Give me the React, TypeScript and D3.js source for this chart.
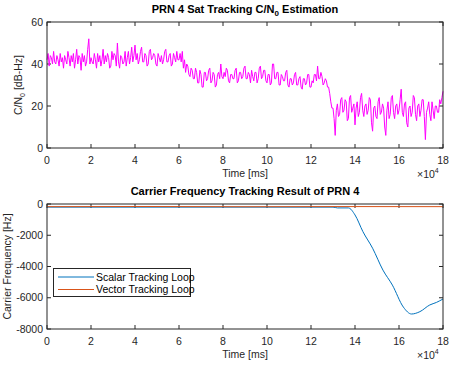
import { useEffect, useRef } from "react";
import * as d3 from "d3";

// C/N0 estimate, one sample every 500 ms
const T_STEP = 500;
const cn0: number[] = [
  42, 45, 39, 44, 43, 40, 46, 41, 40, 44, 42, 39, 45, 41, 43, 38, 44, 42, 40, 46,
  43, 39, 44, 41, 45, 38, 42, 47, 40, 44, 43, 37, 45, 41, 44, 39, 41, 47, 52, 40,
  43, 41, 40, 45, 42, 38, 45, 41, 44, 39, 42, 47, 40, 44, 41, 45, 43, 38, 39, 46,
  42, 45, 44, 39, 50, 41, 38, 44, 43, 40, 41, 46, 39, 43, 46, 40, 43, 48, 41, 44,
  49, 42, 45, 40, 42, 46, 48, 41, 41, 45, 44, 39, 40, 46, 47, 42, 43, 45, 44, 40,
  39, 45, 43, 41, 44, 40, 42, 46, 47, 41, 41, 44, 45, 39, 40, 45, 43, 41, 46, 42,
  42, 45, 41, 46, 38, 42, 36, 40, 39, 35, 34, 38, 37, 33, 33, 38, 36, 31, 31, 37,
  35, 29, 29, 36, 36, 32, 33, 37, 38, 31, 32, 36, 35, 29, 30, 35, 36, 33, 40, 34,
  33, 36, 34, 38, 37, 32, 31, 35, 35, 33, 33, 37, 38, 31, 32, 36, 36, 33, 34, 38,
  39, 33, 33, 36, 35, 31, 37, 34, 32, 36, 36, 31, 33, 38, 39, 33, 34, 37, 37, 32,
  31, 35, 35, 30, 31, 40, 40, 33, 33, 36, 36, 30, 30, 35, 34, 32, 32, 36, 37, 30,
  29, 33, 33, 30, 31, 35, 36, 30, 30, 33, 34, 29, 28, 33, 33, 30, 31, 35, 35, 29,
  29, 32, 31, 35, 35, 32, 39, 33, 33, 36, 34, 30, 31, 33, 32, 29, 29, 26, 22, 19,
  19, 14, 6, 18, 21, 15, 16, 23, 24, 17, 18, 23, 22, 13, 14, 24, 25, 17, 19, 21,
  11, 19, 22, 15, 17, 24, 26, 18, 15, 20, 21, 16, 18, 24, 23, 12, 8, 19, 20, 15,
  14, 22, 24, 16, 17, 21, 19, 10, 6, 18, 22, 14, 16, 24, 25, 17, 14, 20, 21, 16,
  18, 23, 28, 17, 15, 21, 22, 12, 10, 19, 20, 15, 17, 25, 24, 16, 13, 20, 21, 15,
  18, 23, 23, 15, 4, 17, 19, 22, 16, 13, 22, 18, 14, 20, 20, 17, 17, 23, 21, 24,
  27,
];

// Carrier frequency [Hz]
const scalarT = [0, 130000, 132000, 137000, 140000, 143600, 148000, 152700, 157000, 162000, 165700, 169500, 174000, 177000, 180000];
const scalarF = [-200, -200, -250, -250, -700, -1770, -2830, -4230, -5190, -6600, -7040, -6890, -6460, -6300, -6080];
const vectorT = [0, 45000, 90000, 135000, 180000];
const vectorF = [-170, -160, -175, -165, -170];

const xTicks = [0, 20000, 40000, 60000, 80000, 100000, 120000, 140000, 160000, 180000];
const cnTicks = [0, 20, 40, 60];
const fTicks = [-8000, -6000, -4000, -2000, 0];
const legendLabels = ["Scalar Tracking Loop", "Vector Tracking Loop"];

export default function App() {
  const svgRef = useRef<SVGSVGElement>(null);

  useEffect(() => {
    if (!svgRef.current) return;
    const svg = d3.select(svgRef.current);
    svg.selectAll("*").remove();

    const font = "Liberation Sans, Arial, sans-serif";
    const axisColor = "#262626";
    const left = 47;
    const right = 443;

    const x = d3.scaleLinear().domain([0, 180000]).range([left, right]);

    const drawAxes = (
      y: d3.ScaleLinear<number, number>,
      top: number,
      bottom: number,
      yTicks: number[],
      title: string,
      sub: string | null,
      titleRest: string,
      ylab: string,
      ylabSub: string | null,
      ylabRest: string,
      ylabX: number
    ) => {
      const g = svg.append("g");
      g.append("rect")
        .attr("x", left)
        .attr("y", top)
        .attr("width", right - left)
        .attr("height", bottom - top)
        .attr("fill", "white");

      // x ticks (inside, bottom and top)
      xTicks.forEach((t) => {
        const px = x(t);
        g.append("line").attr("x1", px).attr("x2", px).attr("y1", bottom).attr("y2", bottom - 4).attr("stroke", axisColor);
        g.append("line").attr("x1", px).attr("x2", px).attr("y1", top).attr("y2", top + 4).attr("stroke", axisColor);
        g.append("text")
          .attr("x", px)
          .attr("y", bottom + 16)
          .attr("text-anchor", "middle")
          .attr("font-family", font)
          .attr("font-size", 10.5)
          .attr("fill", axisColor)
          .text(t / 10000);
      });

      yTicks.forEach((v) => {
        const py = y(v);
        g.append("line").attr("x1", left).attr("x2", left + 4).attr("y1", py).attr("y2", py).attr("stroke", axisColor);
        g.append("line").attr("x1", right).attr("x2", right - 4).attr("y1", py).attr("y2", py).attr("stroke", axisColor);
        g.append("text")
          .attr("x", left - 4)
          .attr("y", py + 3.5)
          .attr("text-anchor", "end")
          .attr("font-family", font)
          .attr("font-size", 10.5)
          .attr("fill", axisColor)
          .text(v);
      });

      // title
      const tt = g.append("text")
        .attr("x", (left + right) / 2)
        .attr("y", top - 9)
        .attr("text-anchor", "middle")
        .attr("font-family", font)
        .attr("font-size", 11)
        .attr("font-weight", "bold")
        .attr("fill", "black");
      tt.append("tspan").text(title);
      if (sub) {
        tt.append("tspan").attr("font-size", 8).attr("dy", 3).text(sub);
        tt.append("tspan").attr("dy", -3).text(titleRest);
      }

      // x label
      g.append("text")
        .attr("x", (left + right) / 2)
        .attr("y", bottom + 29)
        .attr("text-anchor", "middle")
        .attr("font-family", font)
        .attr("font-size", 10.5)
        .attr("fill", axisColor)
        .text("Time [ms]");

      // exponent
      const ex = g.append("text")
        .attr("x", 417)
        .attr("y", bottom + 30)
        .attr("font-family", font)
        .attr("font-size", 10.5)
        .attr("fill", axisColor);
      ex.append("tspan").text("×10");
      ex.append("tspan").attr("font-size", 7).attr("dy", -5).text("4");

      // y label
      const cy = (top + bottom) / 2;
      const yl = g.append("text")
        .attr("transform", `translate(${ylabX},${cy}) rotate(-90)`)
        .attr("text-anchor", "middle")
        .attr("font-family", font)
        .attr("font-size", 10.5)
        .attr("fill", axisColor);
      yl.append("tspan").text(ylab);
      if (ylabSub) {
        yl.append("tspan").attr("font-size", 7).attr("dy", 3).text(ylabSub);
        yl.append("tspan").attr("dy", -3).text(ylabRest);
      }
      return g;
    };

    // ---- top plot ----
    const topY = 22;
    const topB = 148;
    const y1 = d3.scaleLinear().domain([0, 60]).range([topB, topY]);
    const g1 = drawAxes(y1, topY, topB, cnTicks, "PRN 4 Sat Tracking C/N", "0", " Estimation", "C/N", "0", " [dB-Hz]", 22);

    const line1 = d3
      .line<number>()
      .x((_, i) => x(i * T_STEP))
      .y((d) => y1(d));
    g1.append("path")
      .datum(cn0)
      .attr("fill", "none")
      .attr("stroke", "#FF00FF")
      .attr("stroke-width", 1)
      .attr("d", line1);

    g1.append("rect")
      .attr("x", left)
      .attr("y", topY)
      .attr("width", right - left)
      .attr("height", topB - topY)
      .attr("fill", "none")
      .attr("stroke", axisColor);

    // ---- bottom plot ----
    const botY = 204;
    const botB = 329;
    const y2 = d3.scaleLinear().domain([-8000, 0]).range([botB, botY]);
    const g2 = drawAxes(y2, botY, botB, fTicks, "Carrier Frequency Tracking Result of PRN 4", null, "", "Carrier Frequency [Hz]", null, "", 11);

    const line2 = d3
      .line<number>()
      .curve(d3.curveMonotoneX)
      .x((d) => x(d))
      .y((_, i) => y2(scalarF[i]));
    g2.append("path")
      .datum(scalarT)
      .attr("fill", "none")
      .attr("stroke", "#0072BD")
      .attr("stroke-width", 1)
      .attr("d", line2);

    const line3 = d3
      .line<number>()
      .x((d) => x(d))
      .y((_, i) => y2(vectorF[i]));
    g2.append("path")
      .datum(vectorT)
      .attr("fill", "none")
      .attr("stroke", "#D95319")
      .attr("stroke-width", 1)
      .attr("d", line3);

    g2.append("rect")
      .attr("x", left)
      .attr("y", botY)
      .attr("width", right - left)
      .attr("height", botB - botY)
      .attr("fill", "none")
      .attr("stroke", axisColor);

    // legend
    const lg = g2.append("g");
    lg.append("rect")
      .attr("x", 53.5)
      .attr("y", 268.5)
      .attr("width", 137)
      .attr("height", 28)
      .attr("fill", "white")
      .attr("stroke", axisColor);
    const colors = ["#0072BD", "#D95319"];
    legendLabels.forEach((lab, i) => {
      const ly = 277 + i * 12.5;
      lg.append("line")
        .attr("x1", 58)
        .attr("x2", 94)
        .attr("y1", ly)
        .attr("y2", ly)
        .attr("stroke", colors[i])
        .attr("stroke-width", 1);
      lg.append("text")
        .attr("x", 96)
        .attr("y", ly + 3.5)
        .attr("font-family", font)
        .attr("font-size", 10.5)
        .attr("fill", "black")
        .text(lab);
    });
  }, []);

  return (
    <div style={{ position: "absolute", left: 0, top: 0, width: 450, height: 365 }}>
      <svg ref={svgRef} width={450} height={365} style={{ display: "block", background: "white" }}></svg>
    </div>
  );
}
